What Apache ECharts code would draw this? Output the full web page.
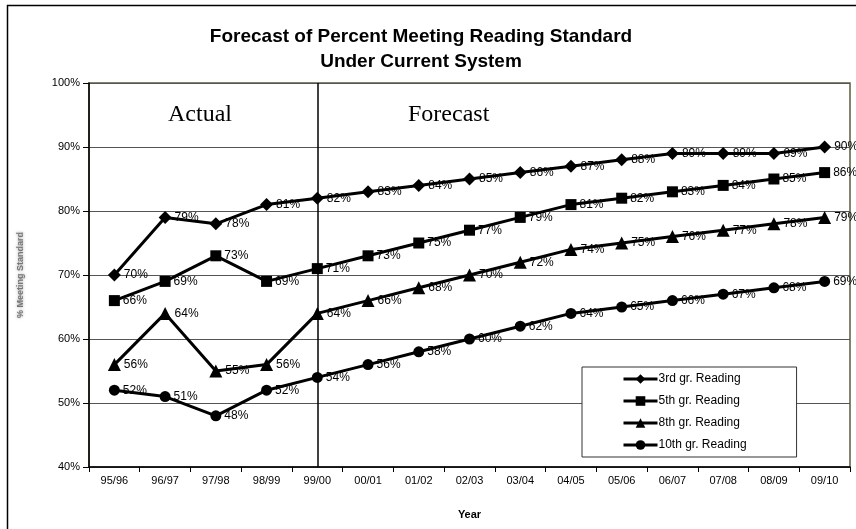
<!DOCTYPE html>
<html>
<head>
<meta charset="utf-8">
<script src="https://cdn.jsdelivr.net/npm/echarts@6/dist/echarts.min.js"></script>
<style>html,body{margin:0;padding:0;background:#fff}#c{width:856px;height:529px}</style>
</head>
<body>
<div id="c"></div>
<script>
var years = ['95/96','96/97','97/98','98/99','99/00','00/01','01/02','02/03','03/04','04/05','05/06','06/07','07/08','08/09','09/10'];
var grade3 = [70,79,78,81,82,83,84,85,86,87,88,89,89,89,90];
var grade5 = [66,69,73,69,71,73,75,77,79,81,82,83,84,85,86];
var grade8 = [56,64,55,56,64,66,68,70,72,74,75,76,77,78,79];
var grade10 = [52,51,48,52,54,56,58,60,62,64,65,66,67,68,69];
var seriesNames = ['3rd gr. Reading','5th gr. Reading','8th gr. Reading','10th gr. Reading'];
var dividerYear = '99/00';

var chart = echarts.init(document.getElementById('c'), null, {renderer:'canvas'});
var FONT = 'Arial, "Liberation Sans", sans-serif';
var SERIF = '24px "Liberation Serif", "Times New Roman", serif';
function mk(name, data, symbol, size, withMark) {
  var s = {
    name: name, type: 'line', data: data, symbol: symbol, symbolSize: size,
    lineStyle: {color:'#000', width:3}, itemStyle: {color:'#000'},
    label: {show:true, position:'right', distance:3, formatter:'{c}%', color:'#000', fontSize:12, fontFamily:FONT},
    animation: false, z: 5
  };
  if (withMark) {
    s.markLine = {silent:true, symbol:'none', label:{show:false},
      lineStyle:{color:'#000', width:1.5, type:'solid'},
      data:[{xAxis: dividerYear}]};
  }
  return s;
}
chart.setOption({
  backgroundColor:'#fff',
  animation:false,
  title: {
    text: 'Forecast of Percent Meeting Reading Standard\nUnder Current System',
    left: 416, top: 19, textAlign: 'center',
    textStyle: {fontFamily: FONT, fontWeight:'bold', fontSize:19, lineHeight:25, color:'#000'}
  },
  grid: {left:89, right:6, top:83, bottom:62, show:true, borderColor:'#5c5c3c', borderWidth:1.5},
  legend: {
    orient:'vertical', left:582, top:367, data: seriesNames,
    backgroundColor:'#fff', borderColor:'#333', borderWidth:1,
    padding:[6, 50, 6, 40], itemGap:10, itemWidth:34, itemHeight:12,
    lineStyle:{width:3},
    textStyle:{fontFamily:FONT, fontSize:12, color:'#000', padding:[0,0,0,-4]}
  },
  xAxis: {
    type:'category', data: years, boundaryGap:true,
    name:'Year', nameLocation:'middle', nameGap:42,
    nameTextStyle:{fontFamily:FONT, fontWeight:'bold', fontSize:11, color:'#000'},
    axisLine:{lineStyle:{color:'#000', width:1.5}},
    axisTick:{show:true, length:5, lineStyle:{color:'#000'}},
    axisLabel:{fontFamily:FONT, fontSize:11, color:'#000', margin:8},
    splitLine:{show:false}
  },
  yAxis: {
    type:'value', min:40, max:100, interval:10,
    name:'% Meeting Standard', nameLocation:'middle', nameGap:64, nameRotate:90,
    nameTextStyle:{fontFamily:FONT, fontWeight:'bold', fontSize:9, color:'#777', textShadowColor:'#999', textShadowBlur:3},
    axisLine:{show:true, lineStyle:{color:'#000', width:1.5}},
    axisTick:{show:true, length:6, lineStyle:{color:'#000'}},
    axisLabel:{fontFamily:FONT, fontSize:11, color:'#000', formatter:'{value}%', margin:9},
    splitLine:{show:true, lineStyle:{color:'#555', width:1.2}}
  },
  graphic: [
    {type:'rect', shape:{x:7.5, y:5.5, width:900, height:600}, style:{fill:null, stroke:'#000', lineWidth:1.5}, silent:true, z:-1},
    {type:'text', left:168, top:103, style:{text:'Actual', font:SERIF, fill:'#000'}},
    {type:'text', left:408, top:103, style:{text:'Forecast', font:SERIF, fill:'#000'}}
  ],
  series: [
    mk(seriesNames[0], grade3, 'diamond', 13, true),
    mk(seriesNames[1], grade5, 'rect', 11, false),
    mk(seriesNames[2], grade8, 'triangle', 13, false),
    mk(seriesNames[3], grade10, 'circle', 11, false)
  ]
});
</script>
</body>
</html>
